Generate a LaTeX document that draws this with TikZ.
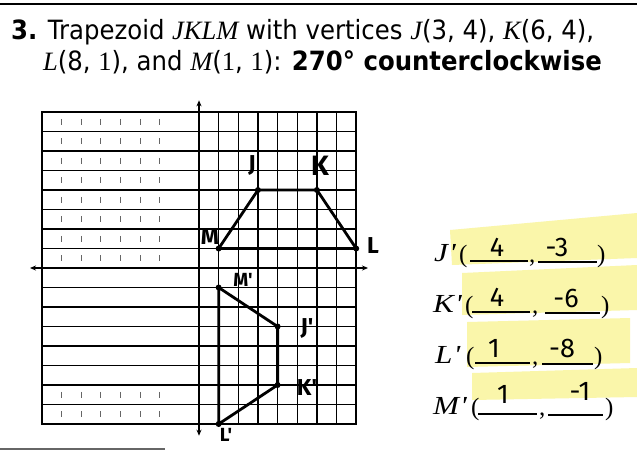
\documentclass[tikz,border=0pt]{standalone}
\usepackage{fontspec}
\setmainfont{DejaVu Sans}[FakeStretch=0.92]
\newfontfamily\serf{Liberation Serif}
\newfontfamily\serw{Liberation Serif}[FakeStretch=1.2]
\newfontfamily\hand{Fira Sans}
\usetikzlibrary{arrows.meta}
\definecolor{hl}{RGB}{250,246,170}
\newcommand{\iv}[1]{{\serf\itshape #1}}
\tikzset{
  title/.style={anchor=base west, inner sep=0pt, font=\fontsize{26.5}{30}\selectfont},
  lab/.style={anchor=base west, inner sep=0pt, font=\serw\itshape\fontsize{26}{28}\selectfont},
  par/.style={anchor=base west, inner sep=0pt, font=\serf\fontsize{25}{28}\selectfont},
  ans/.style={anchor=base, inner sep=0pt, font=\hand\fontsize{27}{28}\selectfont},
  glab/.style={inner sep=0pt, font=\hand\bfseries\fontsize{23}{25}\selectfont},
  gsmall/.style={glab, font=\hand\bfseries\fontsize{19}{21}\selectfont},
  gbig/.style={glab, font=\hand\bfseries\fontsize{28}{30}\selectfont},
  gline/.style={line width=1.2pt},
  faint/.style={line width=1pt, black!60, dash pattern=on 6pt off 13.5pt, dash phase=12.75pt},
  axis/.style={line width=1.8pt, {Stealth[length=6pt,width=5pt]}-{Stealth[length=6pt,width=5pt]}},
  poly/.style={line width=2.8pt, line join=round},
  dot/.style={circle, fill=black, inner sep=0pt, minimum size=6pt},
  uline/.style={line width=1.1pt}
}
\begin{document}
\begin{tikzpicture}[x=1pt,y=-1pt]
\useasboundingbox (0,0) rectangle (637,451);
\fill[white] (0,0) rectangle (637,451);
% rules
\draw[line width=2.2pt] (0,4) -- (637,4);
\draw[line width=1.6pt, black!60] (0,449) -- (165,449);
% title
\node[title] (t1) at (11,39) {\textbf{3.} Trapezoid \iv{JKLM} with vertices \iv{J}(3, 4), \iv{K}(6, 4),};
\node[title] (t2) at (43,70) {\iv{L}(8, {\serf 1}), and \iv{M}({\serf 1}, {\serf 1}): \textbf{270° counterclockwise}};
% highlights
\fill[hl] (450,230) -- (637,213) -- (637,258) -- (452,265) -- cycle;
\fill[hl] (462,273) -- (637,265) -- (637,310) -- (462,315) -- cycle;
\fill[hl] (467,322) -- (630,318) -- (630,363) -- (467,367) -- cycle;
\fill[hl] (472,373) -- (637,368) -- (637,397) -- (472,400) -- cycle;
% answer rows
\node[lab] (rj) at (434,261) {J\kern1pt'};
\node[lab] (rk) at (433,312) {K\kern1pt'};
\node[lab] (rl) at (435,363) {L\kern1pt'};
\node[lab] (rm) at (433,414) {M\kern1pt'};
\node[par] (oj) at (459,262) {(};
\node[par] (ok) at (465,313) {(};
\node[par] (ol) at (466,364) {(};
\node[par] (om) at (471,415) {(};
\draw[uline] (470,261) -- (528,261); \draw[uline] (538,262) -- (597,262);
\draw[uline] (472,312) -- (530,312); \draw[uline] (545,313) -- (600,313);
\draw[uline] (475,363) -- (530,363); \draw[uline] (542,364) -- (593,364);
\draw[uline] (478,414) -- (537,414); \draw[uline] (548,415) -- (603,415);
\node[par] (cj) at (529,262) {,}; \node[par] (pj) at (597,262) {)};
\node[par] (ck) at (532,313) {,}; \node[par] (pk) at (601,313) {)};
\node[par] (cl) at (532,364) {,}; \node[par] (pl) at (594,364) {)};
\node[par] (cm) at (539,415) {,}; \node[par] (pm) at (605,415) {)};
\node[ans] (aj1) at (497,256) {4}; \node[ans] (aj2) at (557,256) {-3};
\node[ans] (ak1) at (497,306) {4}; \node[ans] (ak2) at (566,307) {-6};
\node[ans] (al1) at (494,357) {1}; \node[ans] (al2) at (562,357) {-8};
\node[ans] (am1) at (503,403) {1}; \node[ans] (am2) at (580,400) {-1};
% grid
\begin{scope}[shift={(199,268)}, x=19.65pt, y=19.5pt]
  \foreach \k in {-7,...,-1,1,2,...,7} \draw[gline] (-8,\k) -- (8,\k);
  \foreach \k in {1,...,7} \draw[gline] (\k,-8) -- (\k,8);
  \foreach \k in {-7,...,-2} {
    \draw[faint] (\k,8) -- (\k,0);
    \draw[faint] (\k,-6) -- (\k,-8);
  }
  \draw[line width=1.8pt] (-8,-8) rectangle (8,8);
  \coordinate (xl) at (-8.6,0); \coordinate (xr) at (8.6,0);
  \coordinate (yb) at (0,-8.6); \coordinate (yt) at (0,8.6);
  \draw[axis] (xl) -- (xr);
  \draw[axis] (yb) -- (yt);
  % original
  \coordinate (J) at (3,4); \coordinate (K) at (6,4);
  \coordinate (L) at (8,1); \coordinate (M) at (1,1);
  \draw[poly] (J) -- (K) -- (L) -- (M) -- cycle;
  \foreach \p in {J,K,L,M} \node[dot] (d\p) at (\p) {};
  % image
  \coordinate (J2) at (4,-3); \coordinate (K2) at (4,-6);
  \coordinate (L2) at (1,-8); \coordinate (M2) at (1,-1);
  \draw[poly] (J2) -- (K2) -- (L2) -- (M2) -- cycle;
  \foreach \p in {J2,K2,L2,M2} \node[dot] (d\p) at (\p) {};
\end{scope}
% handwritten grid labels
\node[glab] (lJ) at (252,165) {J};
\node[gbig] (lK) at (320,166) {K};
\node[glab] (lM) at (210,237) {M};
\node[glab] (lL) at (373,246) {L};
\node[gsmall] (lM2) at (243,280) {M'};
\node[glab] (lJ2) at (307,328) {J'};
\node[glab] (lK2) at (307,388) {K'};
\node[gsmall] (lL2) at (226,435) {L'};
\end{tikzpicture}
\end{document}
